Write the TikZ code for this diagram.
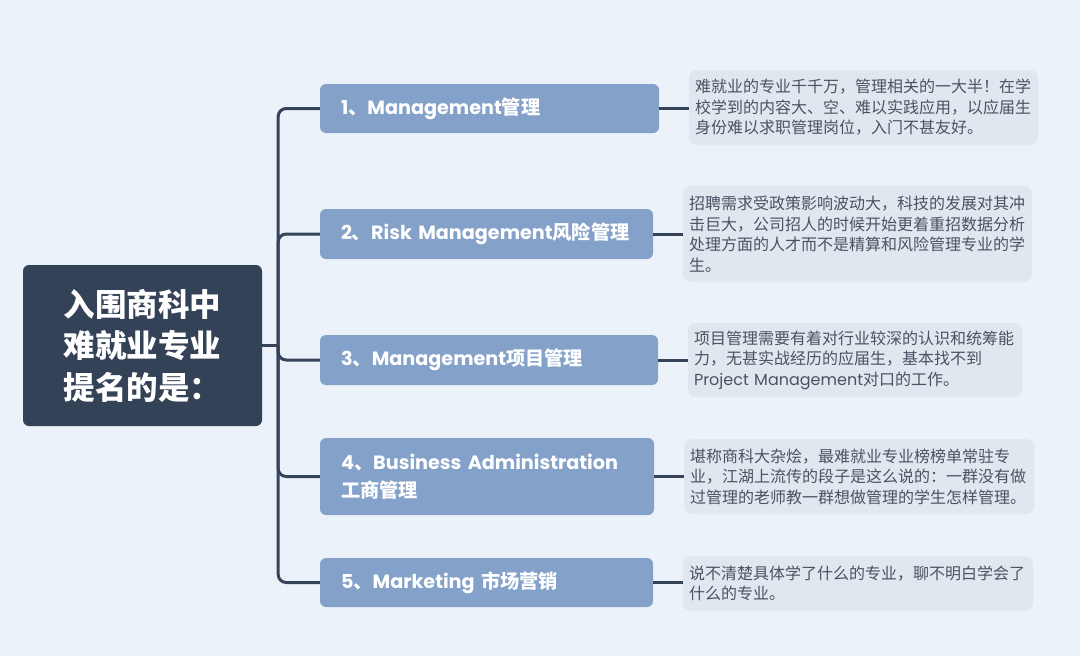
\documentclass[tikz,border=0pt]{standalone}
\usepackage{fontspec}
\setmainfont{Noto Sans CJK SC}
\newfontfamily\lat{Poppins}
\definecolor{bgc}{HTML}{ECF2F9}
\definecolor{rootc}{HTML}{344258}
\definecolor{brc}{HTML}{84A1C9}
\definecolor{notec}{HTML}{E1E7EF}
\definecolor{notetext}{HTML}{4A5364}
\definecolor{linec}{HTML}{36445A}
\begin{document}
\begin{tikzpicture}[x=1pt,y=-1pt,
  rootbox/.style={fill=rootc, rounded corners=6, text=white, font=\fontsize{31.5}{41.5}\selectfont\bfseries, align=left, inner sep=0, minimum width=239, minimum height=161},
  branch/.style={fill=brc, rounded corners=6, text=white, font=\fontsize{19.2}{28}\selectfont\bfseries, align=left, inner xsep=21, inner ysep=0},
  note/.style={fill=notec, rounded corners=8, text=notetext, font=\fontsize{16}{20.5}\selectfont, align=left, inner xsep=6, inner ysep=0},
  conn/.style={draw=linec, line width=3},
  trunk/.style={draw=linec, line width=3, rounded corners=8}]
\fill[bgc] (0,0) rectangle (1080,656);
\useasboundingbox (0,0) rectangle (1080,656);

\node[rootbox] (root) at (142.5,345.5) {入围商科中\\难就业专业\\提名的是：};

\node[branch, text width=297, minimum height=49] (b1) at (489.5,108.5) {\mbox{{\lat 1}、{\lat Management}管理}};
\node[branch, text width=291, minimum height=50] (b2) at (486.5,234) {\mbox{{\lat 2}、{\lat Risk Management}风险管理}};
\node[branch, text width=296, minimum height=50] (b3) at (489,360) {\mbox{{\lat 3}、{\lat Management}项目管理}};
\node[branch, text width=292, minimum height=77] (b4) at (487,476.5) {\mbox{{\lat 4}、{\lat Business Administration}}\\工商管理};
\node[branch, text width=291, minimum height=49] (b5) at (486.5,582.5) {\mbox{{\lat 5}、{\lat Marketing} 市场营销}};

\node[note, text width=337, minimum height=75] (n1) at (863.5,107.5) {难就业的专业千千万，管理相关的一大半！在学\\校学到的内容大、空、难以实践应用，以应届生\\身份难以求职管理岗位，入门不甚友好。};
\node[note, text width=337, minimum height=96] (n2) at (857.5,234) {招聘需求受政策影响波动大，科技的发展对其冲\\击巨大，公司招人的时候开始更着重招数据分析\\处理方面的人才而不是精算和风险管理专业的学\\生。};
\node[note, text width=322, minimum height=74] (n3) at (855,360) {项目管理需要有着对行业较深的认识和统筹能\\力，无甚实战经历的应届生，基本找不到\\{\lat Project Management}对口的工作。};
\node[note, text width=338, minimum height=75] (n4) at (859,476.5) {堪称商科大杂烩，最难就业专业榜榜单常驻专\\业，江湖上流传的段子是这么说的：一群没有做\\过管理的老师教一群想做管理的学生怎样管理。};
\node[note, text width=338, minimum height=55] (n5) at (858,583.5) {说不清楚具体学了什么的专业，聊不明白学会了\\什么的专业。};

\path (root.east) -- ++(16,0) coordinate (j);
\draw[conn] (root.east) -- (j);
\foreach \b in {b1,b2,b3,b4,b5} {\draw[trunk] (j) |- (\b.west);}
\foreach \b/\n in {b1/n1,b2/n2,b3/n3,b4/n4,b5/n5} {\draw[conn] (\b.east) -- (\b.east -| \n.west);}
\end{tikzpicture}
\end{document}
